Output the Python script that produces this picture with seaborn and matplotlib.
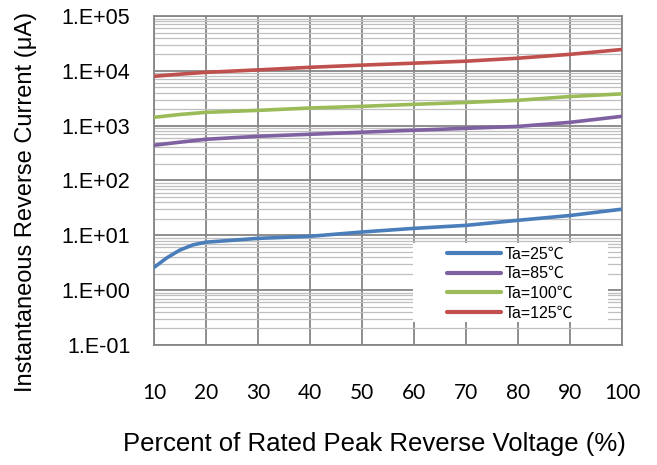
import matplotlib
matplotlib.use("Agg")
import matplotlib.pyplot as plt
from matplotlib.patches import Rectangle
from matplotlib.ticker import FixedLocator, LogLocator, NullFormatter
import pandas as pd
import seaborn as sns

# values (percent of rated voltage vs. reverse current in uA)
voltage_pct = [10, 15, 20, 30, 40, 50, 60, 70, 80, 90, 100]
voltage_pct_25c = [10, 12.5, 15, 17.5, 20, 30, 40, 50, 60, 70, 80, 90, 100]
ir_25c = [2.6, 3.9, 5.4, 6.7, 7.5, 8.8, 9.6, 11.5, 13.4, 15.2, 18.8, 23.0, 30.0]
ir_85c = [440, 500, 565, 640, 697, 760, 825, 895, 970, 1150, 1480]
ir_100c = [1420, 1600, 1750, 1900, 2100, 2250, 2450, 2650, 2900, 3400, 3800]
ir_125c = [7950, 8700, 9400, 10400, 11600, 12700, 13800, 15000, 17000, 20000, 24500]

series_names = ["Ta=25\u2103", "Ta=85\u2103", "Ta=100\u2103", "Ta=125\u2103"]
series_colors = ["#4A7EBB", "#7F60A0", "#9BBB59", "#C0504D"]
y_ticks = [1e-1, 1e0, 1e1, 1e2, 1e3, 1e4, 1e5]
y_tick_labels = ["1.E-01", "1.E+00", "1.E+01", "1.E+02", "1.E+03", "1.E+04", "1.E+05"]
x_ticks = [10, 20, 30, 40, 50, 60, 70, 80, 90, 100]

frames = []
for name, xs, vals in zip(series_names,
                          [voltage_pct_25c, voltage_pct, voltage_pct, voltage_pct],
                          [ir_25c, ir_85c, ir_100c, ir_125c]):
    frames.append(pd.DataFrame({"pct": xs, "ir": vals, "series": name}))
df = pd.concat(frames, ignore_index=True)

sns.set_theme(style="white")
plt.rcParams["font.family"] = ["Liberation Sans", "Noto Sans CJK SC", "DejaVu Sans"]
plt.rcParams["text.color"] = "black"
plt.rcParams["axes.labelcolor"] = "black"
plt.rcParams["xtick.color"] = "black"
plt.rcParams["ytick.color"] = "black"

fig = plt.figure(figsize=(6.57, 4.65), dpi=100)
ax = fig.add_axes([154 / 657, 1 - 345 / 465, 468 / 657, 329 / 465])

sns.lineplot(data=df, x="pct", y="ir", hue="series", hue_order=series_names,
             palette=series_colors, linewidth=2.6, ax=ax, zorder=3)

ax.set_yscale("log")
ax.set_xlim(10, 100)
ax.set_ylim(1e-1, 1e5)

ax.xaxis.set_major_locator(FixedLocator(x_ticks))
ax.yaxis.set_major_locator(FixedLocator(y_ticks))
ax.set_yticklabels(y_tick_labels)
ax.yaxis.set_minor_locator(LogLocator(base=10, subs=range(2, 10), numticks=20))
ax.yaxis.set_minor_formatter(NullFormatter())

ax.grid(True, which="minor", axis="y", color="#bfbfbf", linewidth=0.9, zorder=0)
ax.grid(True, which="major", axis="y", color="#868686", linewidth=1.3, zorder=1)
ax.grid(True, which="major", axis="x", color="#868686", linewidth=1.3, zorder=1)
for sp in ax.spines.values():
    sp.set_color("#868686")
    sp.set_linewidth(1.3)

ax.tick_params(axis="x", which="both", length=0, pad=27, labelsize=15)
ax.tick_params(axis="y", which="both", length=0, pad=17, labelsize=15.5)
for lbl in ax.get_xticklabels():
    lbl.set_fontfamily(["Lato", "DejaVu Sans"])

ax.set_xlabel("Percent of Rated Peak Reverse Voltage (%)", fontsize=18.5)
ax.set_ylabel("Instantaneous Reverse Current (\u03bcA)", fontsize=17)
ax.xaxis.set_label_coords(0.47, -0.265)
ax.yaxis.set_label_coords(-0.25, 0.435)

# white legend panel, wider than the entries themselves
ax.add_patch(Rectangle((0.553, 0.070), 0.417, 0.240, transform=ax.transAxes,
                       facecolor="white", edgecolor="none", zorder=4))
leg = ax.legend(loc="upper left", bbox_to_anchor=(0.626, 0.300), borderaxespad=0,
                frameon=False, fontsize=11.5, handlelength=3.4,
                handletextpad=0.2, labelspacing=0.3, borderpad=0)
for line in leg.get_lines():
    line.set_linewidth(3)
leg.set_zorder(5)

fig.savefig("out.png", dpi=100)
